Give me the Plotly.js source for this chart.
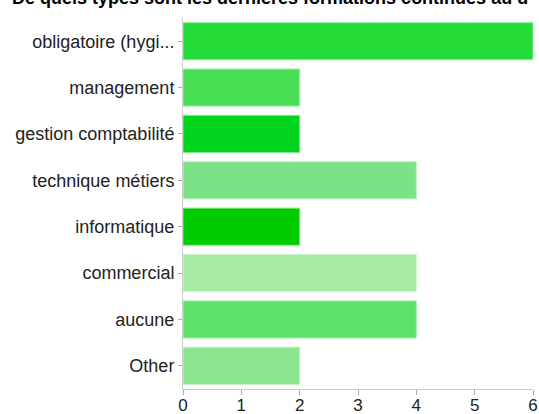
<!DOCTYPE html>
<html>
<head>
<meta charset="utf-8">
<script src="https://cdn.plot.ly/plotly-3.0.1.min.js"></script>
<style>html,body{margin:0;padding:0;background:#fff;}#chart{width:539px;height:414px;}</style>
</head>
<body>
<div id="chart"></div>
<script>
var categories = ["obligatoire (hygi...", "management", "gestion comptabilité", "technique métiers", "informatique", "commercial", "aucune", "Other"];
var counts = [6, 2, 2, 4, 2, 4, 4, 2];
var barColors = ["#24dc37", "#4ade55", "#00d41e", "#7ae386", "#00cc00", "#a5eba5", "#5ee36a", "#8ce690"];
var borderColors = ["#8fef9a", "#9cefa3", "#7fe98e", "#b8f0be", "#7fe57f", "#d0f5d0", "#a8f0ae", "#c0f2c2"];
var xTicks = [0, 1, 2, 3, 4, 5, 6];
var titleText = "De quels types sont les dernières formations continues au d";

var trace = {
  type: "bar",
  orientation: "h",
  y: categories,
  x: counts,
  marker: { color: barColors, line: { color: borderColors, width: 1 } },
  hoverinfo: "none"
};

var layout = {
  width: 539,
  height: 414,
  margin: { l: 183, r: 6, t: 18, b: 25, pad: 0 },
  paper_bgcolor: "#ffffff",
  plot_bgcolor: "#ffffff",
  showlegend: false,
  bargap: 0.2,
  font: { family: "Liberation Sans, Arial, sans-serif", size: 18, color: "#222222" },
  title: {
    text: "<b>" + titleText + "</b>",
    font: { family: "Liberation Sans, Arial, sans-serif", size: 18, color: "#000000" },
    xref: "container", yref: "container",
    x: 12 / 539, xanchor: "left",
    y: 1 - 4 / 414, yanchor: "bottom"
  },
  xaxis: {
    range: [0, 6],
    tickvals: xTicks,
    ticktext: xTicks.map(String),
    showgrid: false,
    zeroline: false,
    showline: true,
    linecolor: "#cccccc",
    linewidth: 1,
    ticks: "outside",
    ticklen: 5,
    tickcolor: "#aaaaaa",
    ticklabelstandoff: -4,
    tickfont: { size: 17, color: "#222222" },
    fixedrange: true
  },
  yaxis: {
    autorange: "reversed",
    showgrid: false,
    zeroline: false,
    showline: true,
    linecolor: "#cccccc",
    linewidth: 1,
    ticks: "outside",
    ticklen: 4,
    tickcolor: "#aaaaaa",
    tickfont: { size: 18, color: "#222222" },
    fixedrange: true
  }
};

Plotly.newPlot("chart", [trace], layout, { displayModeBar: false, staticPlot: true });
</script>
</body>
</html>
